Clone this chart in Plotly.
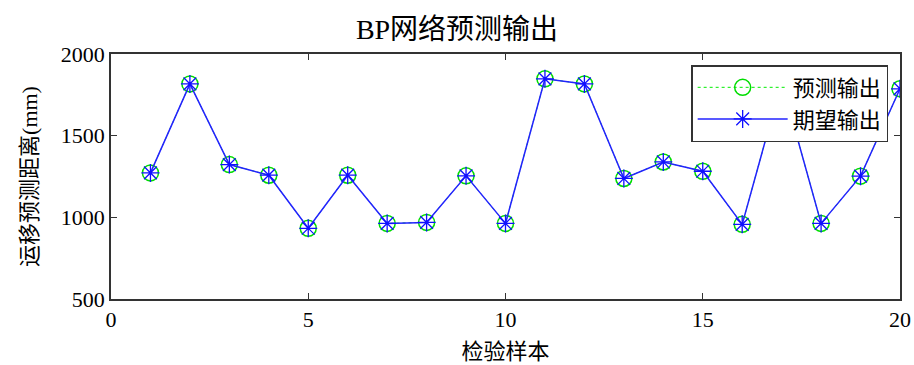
import plotly.graph_objects as go

# Test samples and BP network outputs (mm)
samples = list(range(1, 21))
predicted = [1272, 1817, 1323, 1258, 933, 1258, 963, 969, 1254, 963,
             1848, 1817, 1238, 1339, 1282, 957, 1830, 963, 1252, 1787]
expected = [1272, 1817, 1323, 1258, 933, 1258, 963, 969, 1254, 963,
            1848, 1817, 1238, 1339, 1282, 957, 1830, 963, 1252, 1787]

x_ticks = [0, 5, 10, 15, 20]
y_ticks = [500, 1000, 1500, 2000]

FONT = "Liberation Serif, Times New Roman, Noto Sans CJK SC, serif"
AXIS_COLOR = "#333333"

fig = go.Figure()
fig.add_trace(go.Scatter(
    x=samples, y=predicted, name="预测输出", mode="lines+markers",
    line=dict(color="#00ee00", width=1, dash="dot"),
    marker=dict(symbol="circle-open", size=16, color="#00dd00",
                line=dict(width=1.5, color="#00dd00")),
))
fig.add_trace(go.Scatter(
    x=samples, y=expected, name="期望输出", mode="lines+markers",
    line=dict(color="#2222ff", width=1.5),
    marker=dict(symbol="asterisk-open", size=15, color="#1010ff",
                line=dict(width=1.3, color="#1010ff")),
))

axis_common = dict(
    showline=True, linecolor=AXIS_COLOR, linewidth=1.5, mirror="ticks",
    ticks="inside", ticklen=6, tickcolor=AXIS_COLOR, tickwidth=1,
    showgrid=False, zeroline=False, automargin=False,
    tickfont=dict(family=FONT, size=22, color="black"),
    title_font=dict(family=FONT, size=22, color="black"),
)

fig.update_xaxes(range=[0, 20], tickvals=x_ticks, title_text="检验样本",
                 title_standoff=12, **axis_common)
fig.update_yaxes(range=[500, 2000], tickvals=y_ticks, title_text="运移预测距离(mm)",
                 title_standoff=17, **axis_common)

fig.update_layout(
    width=914, height=365,
    margin=dict(l=111, r=14, t=54, b=66),
    paper_bgcolor="white", plot_bgcolor="white",
    title=dict(text="BP网络预测输出", x=0.5, xanchor="center", y=0.92, yanchor="middle",
               font=dict(family=FONT, size=28, color="black")),
    legend=dict(x=0.985, xanchor="right", y=0.955, yanchor="top",
                bgcolor="white", bordercolor=AXIS_COLOR, borderwidth=1.5,
                font=dict(family=FONT, size=22, color="black"),
                tracegroupgap=0, itemwidth=90),
    showlegend=True,
)

fig.write_html("out.html")
